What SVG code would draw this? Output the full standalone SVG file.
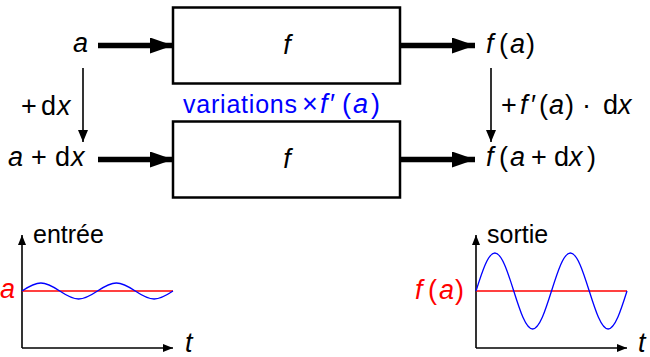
<svg xmlns="http://www.w3.org/2000/svg" width="650" height="357" viewBox="0 0 650 357">
<defs>
<style>
text{font-family:"Liberation Sans",Arial,sans-serif;font-size:25px;fill:#000}
.mt{font-size:27px}
.m{font-style:italic}
.blue{fill:#0000ff}
.red{fill:#ff0000}
.box{fill:#fff;stroke:#000;stroke-width:2.5}
.thick{stroke:#000;stroke-width:5.5;fill:none}
.thin{stroke:#000;stroke-width:1.6;fill:none}
.rl{stroke:#ff0000;stroke-width:1.3;fill:none}
.bl{stroke:#0000ff;stroke-width:1.3;fill:none}
</style>
<marker id="big" markerUnits="userSpaceOnUse" markerWidth="24" markerHeight="16" refX="23" refY="8" orient="auto"><path d="M0,0 L23,8 L0,16 Z" fill="#000"/></marker>
<marker id="small" markerUnits="userSpaceOnUse" markerWidth="12" markerHeight="10" refX="12" refY="5" orient="auto"><path d="M0,0 L12,5 L0,10 Z" fill="#000"/></marker>
<marker id="ax" markerUnits="userSpaceOnUse" markerWidth="12" markerHeight="10" refX="10" refY="4" orient="auto"><path d="M0,0 L10,4 L0,8 Z" fill="#000"/></marker>
</defs>
<g id="connectors">
<path class="thick" d="M98,45.5 H173" marker-end="url(#big)"/>
<path class="thick" d="M98,159.5 H173" marker-end="url(#big)"/>
<path class="thick" d="M400,45.5 H475" marker-end="url(#big)"/>
<path class="thick" d="M400,159.5 H475" marker-end="url(#big)"/>
<path class="thin" d="M83,68 V142" marker-end="url(#small)"/>
<path class="thin" d="M491,68 V142" marker-end="url(#small)"/>
</g>
<g id="box-top"><rect class="box" x="173" y="7.5" width="227" height="76"/><text class="m mt" x="287" y="54" text-anchor="middle">f</text></g>
<g id="box-bottom"><rect class="box" x="173" y="121.5" width="227" height="76"/><text class="m mt" x="287" y="168" text-anchor="middle">f</text></g>
<g id="in-a"><text x="73" y="52" class="m mt">a</text></g>
<g id="in-adx"><text y="166" class="mt"><tspan x="8" class="m">a</tspan><tspan x="31">+</tspan><tspan x="55">d</tspan><tspan x="71" class="m">x</tspan></text></g>
<g id="lbl-dx"><text y="115" class="mt"><tspan x="21">+</tspan><tspan x="41">d</tspan><tspan x="57" class="m">x</tspan></text></g>
<g id="out-fa"><text y="53" class="mt"><tspan x="486" class="m">f</tspan><tspan x="499">(</tspan><tspan x="510" class="m">a</tspan><tspan x="526">)</tspan></text></g>
<g id="out-fadx"><text y="166" class="mt"><tspan x="486" class="m">f</tspan><tspan x="499">(</tspan><tspan x="510" class="m">a</tspan><tspan x="531">+</tspan><tspan x="554">d</tspan><tspan x="569" class="m">x</tspan><tspan x="587">)</tspan></text></g>
<g id="lbl-fprime"><text y="114" class="mt"><tspan x="501">+</tspan><tspan x="520" class="m">f</tspan><tspan x="531">′</tspan><tspan x="539">(</tspan><tspan x="549" class="m">a</tspan><tspan x="565">)</tspan><tspan x="582">·</tspan><tspan x="603">d</tspan><tspan x="618" class="m">x</tspan></text></g>
<g id="lbl-variations">
<text x="183" y="113" class="blue" textLength="114" lengthAdjust="spacing">variations</text>
<text y="113" class="blue mt"><tspan x="302">×</tspan><tspan x="320" class="m">f</tspan><tspan x="330">′</tspan><tspan x="342">(</tspan><tspan x="353" class="m">a</tspan><tspan x="371">)</tspan></text>
</g>
<g id="graph-in">
<path class="thin" d="M22,348 V235" marker-end="url(#ax)"/>
<path class="thin" d="M22,348 H173" marker-end="url(#ax)"/>
<path class="rl" d="M22,291 H173"/>
<path class="bl" d="M22,291 C28.16,286.9 34.04,283 40.875,283 C47.71,283 53.59,286.9 59.75,291 C65.91,295.1 71.79,299 78.625,299 C85.46,299 91.34,295.1 97.5,291 C103.66,286.9 109.54,283 116.375,283 C123.21,283 129.09,286.9 135.25,291 C141.41,295.1 147.29,299 154.125,299 C160.96,299 166.84,295.1 173,291"/>
<text x="33" y="243">entrée</text>
<text x="0" y="298" class="m mt red">a</text>
<text x="185" y="352" class="m mt">t</text>
</g>
<g id="graph-out">
<path class="thin" d="M476,348 V235" marker-end="url(#ax)"/>
<path class="thin" d="M476,348 H627" marker-end="url(#ax)"/>
<path class="rl" d="M476,291 H627"/>
<path class="bl" d="M476,291 C482.16,271.54 488.04,253 494.875,253 C501.71,253 507.59,271.54 513.75,291 C519.91,310.46 525.79,329 532.625,329 C539.46,329 545.34,310.46 551.5,291 C557.66,271.54 563.54,253 570.375,253 C577.21,253 583.09,271.54 589.25,291 C595.41,310.46 601.29,329 608.125,329 C614.96,329 620.84,310.46 627,291"/>
<text x="487" y="243">sortie</text>
<text y="299" class="red mt"><tspan x="415" class="m">f</tspan><tspan x="428">(</tspan><tspan x="439" class="m">a</tspan><tspan x="455">)</tspan></text>
<text x="638" y="352" class="m mt">t</text>
</g>
</svg>
